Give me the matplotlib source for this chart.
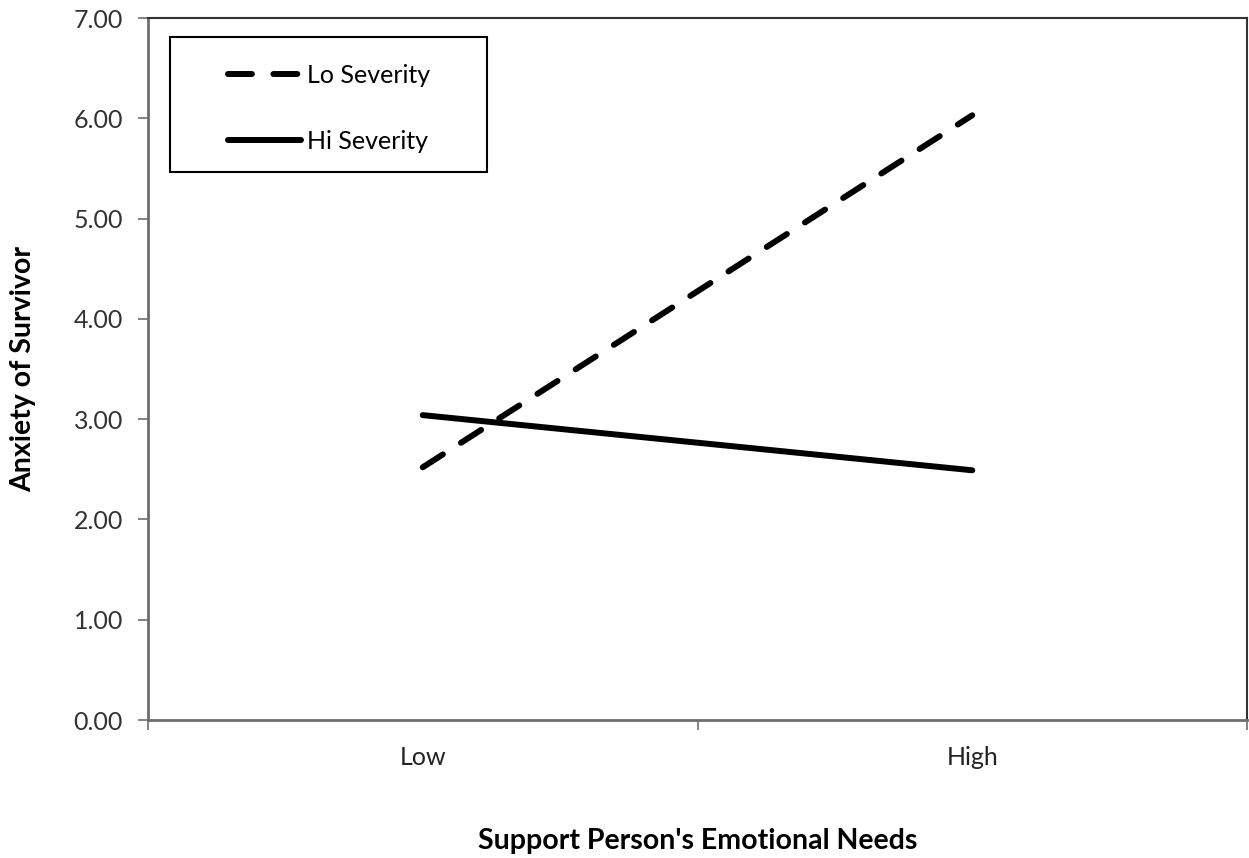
import matplotlib
matplotlib.use('Agg')
import matplotlib.pyplot as plt
from matplotlib.patches import Rectangle
from matplotlib.ticker import FormatStrFormatter

plt.rcParams['font.family'] = ['Lato', 'DejaVu Sans']

NIVEIS = ['Low', 'High']
LO_SEVERITY = [2.52, 6.03]
HI_SEVERITY = [3.04, 2.49]
Y_TICKS = [0, 1, 2, 3, 4, 5, 6, 7]

EIXO = '#6e6e6e'

fig = plt.figure(figsize=(12.49, 8.58), dpi=100)
ax = fig.add_axes([148 / 1249, 138 / 858, 1099 / 1249, 702 / 858])

x = list(range(len(NIVEIS)))
ax.plot(x, LO_SEVERITY, color='black', linewidth=4.3, linestyle=(0, (4, 3.6)),
        dash_capstyle='round', label='Lo Severity')
ax.plot(x, HI_SEVERITY, color='black', linewidth=4.3, solid_capstyle='round',
        label='Hi Severity')

ax.set_xlim(-0.5, 1.5)
ax.set_ylim(0, 7)
ax.set_yticks(Y_TICKS)
ax.yaxis.set_major_formatter(FormatStrFormatter('%.2f'))
ax.set_xticks(x)
ax.set_xticklabels(NIVEIS)
ax.set_xticks([-0.5, 0.5, 1.5], minor=True)

ax.tick_params(axis='x', which='major', length=0, pad=19, labelsize=18, colors='#222222')
ax.tick_params(axis='x', which='minor', length=7, width=1.2, color=EIXO, direction='out')
ax.tick_params(axis='y', length=7, width=1.2, color=EIXO, labelsize=18,
               labelcolor='#333333', pad=11)

for lado in ['left', 'bottom']:
    ax.spines[lado].set_color(EIXO)
    ax.spines[lado].set_linewidth(2)
for lado in ['top', 'right']:
    ax.spines[lado].set_color('#333333')
    ax.spines[lado].set_linewidth(1.5)

ax.set_xlabel("Support Person's Emotional Needs", fontsize=20.5, fontweight='bold',
              labelpad=42)
ax.set_ylabel('Anxiety of Survivor', fontsize=20.5, fontweight='bold', labelpad=27)

# caixa da legenda no estilo Excel
ax.add_patch(Rectangle((22 / 1099, (720 - 172) / 702), 317 / 1099, 135 / 702,
                       transform=ax.transAxes, fill=False, edgecolor='black',
                       linewidth=1.5))
ax.legend(loc='upper left', bbox_to_anchor=(0.0728, 0.935), frameon=False,
          borderpad=0, borderaxespad=0, fontsize=18, handlelength=2.9,
          handletextpad=0.25, labelspacing=1.72)

fig.savefig('out.png', dpi=100)
